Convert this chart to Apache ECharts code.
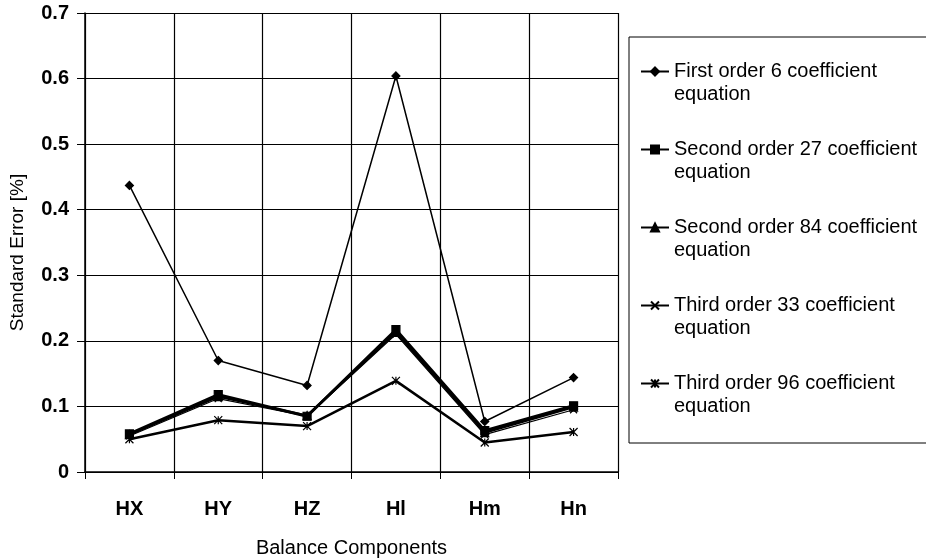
<!DOCTYPE html>
<html>
<head>
<meta charset="utf-8">
<script src="https://cdn.jsdelivr.net/npm/echarts@6/dist/echarts.min.js"></script>
<style>
  html, body { margin: 0; padding: 0; background: #fff; }
  #chart { width: 926px; height: 560px; }
</style>
</head>
<body>
<div id="chart"></div>
<script>
const categories = ['HX', 'HY', 'HZ', 'Hl', 'Hm', 'Hn'];
const yTicks = [0, 0.1, 0.2, 0.3, 0.4, 0.5, 0.6, 0.7];

const firstOrder6 = [0.437, 0.170, 0.132, 0.604, 0.077, 0.144];
const secondOrder27 = [0.058, 0.118, 0.085, 0.217, 0.063, 0.101];
const secondOrder84 = [0.057, 0.115, 0.086, 0.213, 0.060, 0.099];
const thirdOrder33 = [0.055, 0.112, 0.085, 0.210, 0.057, 0.095];
const thirdOrder96 = [0.050, 0.079, 0.070, 0.139, 0.045, 0.061];

const font = 'Liberation Sans, Arial, sans-serif';
const xMark = 'path://M0,0L10,10M10,0L0,10';
const starMark = 'path://M0,0L10,10M10,0L0,10M5,0L5,10';

function makeLine(name, data, symbol, size, width) {
  return {
    name: name,
    type: 'line',
    data: data,
    symbol: symbol,
    symbolSize: size,
    showAllSymbol: true,
    lineStyle: { color: '#000', width: width },
    itemStyle: { color: '#000', borderColor: '#000', borderWidth: 1.2 },
    emphasis: { disabled: true },
    z: 3
  };
}

const chart = echarts.init(document.getElementById('chart'));
chart.setOption({
  animation: false,
  backgroundColor: '#fff',
  textStyle: { fontFamily: font, color: '#000' },
  grid: { left: 85, right: 308, top: 13, bottom: 88, outerBoundsMode: 'none' },
  legend: {
    orient: 'vertical',
    left: 629,
    top: 37,
    padding: [0, 60, 25, 11],
    itemWidth: 28,
    itemHeight: 10,
    itemGap: 9,
    borderColor: '#000',
    borderWidth: 1,
    // leading blank line keeps the marker level with the first text line
    formatter: function (n) { return '\n' + n.replace(' equation', '\nequation'); },
    textStyle: { fontFamily: font, fontSize: 20, lineHeight: 23, color: '#000' }
  },
  xAxis: {
    type: 'category',
    data: categories,
    boundaryGap: true,
    name: 'Balance Components',
    nameLocation: 'middle',
    nameGap: 66,
    nameTextStyle: { fontFamily: font, fontSize: 20, color: '#000' },
    axisLine: { lineStyle: { color: '#000', width: 1.5 } },
    axisTick: { show: true, length: 7, lineStyle: { color: '#000' } },
    axisLabel: { margin: 27, fontFamily: font, fontSize: 20, fontWeight: 'bold', color: '#000' },
    splitLine: { show: true, lineStyle: { color: '#000', width: 1.2 } }
  },
  yAxis: {
    type: 'value',
    min: yTicks[0],
    max: yTicks[yTicks.length - 1],
    interval: 0.1,
    name: 'Standard Error [%]',
    nameLocation: 'middle',
    nameGap: 58,
    nameTextStyle: { fontFamily: font, fontSize: 19, color: '#000', padding: [0, 20, 0, 0] },
    axisLine: { show: true, lineStyle: { color: '#000', width: 1.5 } },
    axisTick: { show: true, length: 8, lineStyle: { color: '#000' } },
    axisLabel: { margin: 16, fontFamily: font, fontSize: 20, fontWeight: 'bold', color: '#000',
      formatter: function (v) { return String(Math.round(v * 10) / 10); } },
    splitLine: { show: true, lineStyle: { color: '#000', width: 1.2 } }
  },
  series: [
    makeLine('First order 6 coefficient equation', firstOrder6, 'diamond', 8, 1.5),
    makeLine('Second order 27 coefficient equation', secondOrder27, 'rect', 8, 3),
    makeLine('Second order 84 coefficient equation', secondOrder84, 'triangle', 8, 2.5),
    makeLine('Third order 33 coefficient equation', thirdOrder33, xMark, 7, 1.2),
    makeLine('Third order 96 coefficient equation', thirdOrder96, starMark, 8, 2.5)
  ]
});
</script>
</body>
</html>
